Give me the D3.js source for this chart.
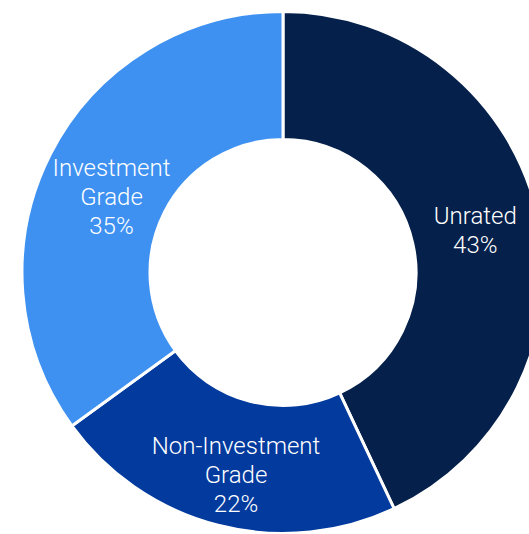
<!DOCTYPE html>
<html>
<head>
<meta charset="utf-8">
<script src="https://cdn.jsdelivr.net/npm/d3@7"></script>
<style>
html,body{margin:0;padding:0;background:#fff;overflow:hidden;}
svg{display:block;}
</style>
</head>
<body>
<svg id="chart" width="529" height="534"></svg>
<script>
const categories = ["Unrated", "Non-Investment Grade", "Investment Grade"];
const labelLines = [["Unrated"], ["Non-Investment", "Grade"], ["Investment", "Grade"]];
const values = [43, 22, 35];
const colors = ["#05204a", "#033a9e", "#3e91f1"];

const svg = d3.select("#chart");
const cx = 283, cy = 272.5, outerR = 261, innerR = 133;
const g = svg.append("g").attr("transform", `translate(${cx},${cy})`);

const pie = d3.pie().sort(null).value(d => d.value);
const data = categories.map((c, i) => ({name: c, value: values[i], lines: labelLines[i], color: colors[i]}));
const arcs = pie(data);
const arc = d3.arc().innerRadius(innerR).outerRadius(outerR);

g.selectAll("path").data(arcs).enter().append("path")
  .attr("d", arc)
  .attr("fill", d => d.data.color)
  .attr("stroke", "#fff")
  .attr("stroke-width", 3)
  .attr("stroke-linejoin", "miter");

// small visual nudges for label placement
const nudge = {"Unrated": [0, 1], "Non-Investment Grade": [2, -2], "Investment Grade": [4, 0]};

const labels = g.selectAll("text.lbl").data(arcs).enter().append("text")
  .attr("class", "lbl")
  .attr("text-anchor", "middle")
  .attr("fill", "#ffffff")
  .style("font-family", "Roboto, sans-serif")
  .style("font-weight", 300)
  .style("font-size", "24px")
  .attr("transform", d => {
    const c = arc.centroid(d), n = nudge[d.data.name];
    return `translate(${c[0] + n[0]},${c[1] - 7 + n[1]})`;
  });

labels.each(function(d) {
  const t = d3.select(this);
  const lines = d.data.lines.concat([d3.format(".0f")(d.data.value) + "%"]);
  lines.forEach((ln, i) => {
    t.append("tspan").attr("x", 0).attr("y", i * 29).text(ln);
  });
});
</script>
</body>
</html>
